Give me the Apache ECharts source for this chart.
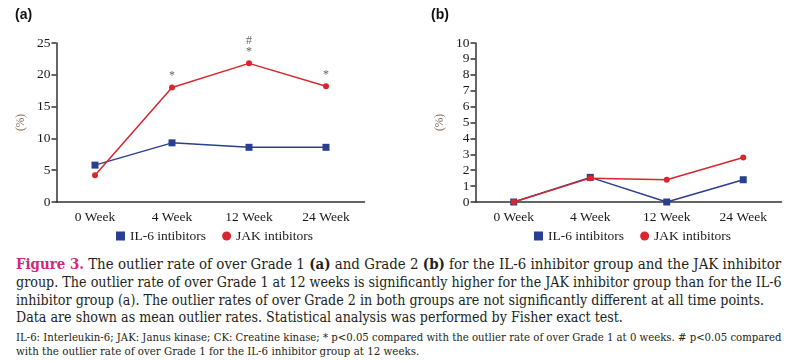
<!DOCTYPE html>
<html>
<head>
<meta charset="utf-8">
<script src="https://cdn.jsdelivr.net/npm/echarts@6/dist/echarts.min.js"></script>
<style>
  html, body { margin: 0; padding: 0; background: #fff; }
  #wrap { position: relative; width: 794px; height: 361px; overflow: hidden; }
  #chart { position: absolute; left: 0; top: 0; width: 794px; height: 250px; }
  .ln { position: absolute; left: 16px; white-space: nowrap; transform-origin: 0 50%;
        font-family: "DejaVu Serif", "Liberation Serif", serif; color: #231f20; }
  .cap { font-size: 15px; line-height: 18px; height: 18px; }
  .fn { font-size: 11.5px; line-height: 14px; height: 14px; }
  .fig { color: #d5257c; font-weight: bold; }
  .b { font-weight: bold; }
</style>
</head>
<body>
<div id="wrap">
  <div id="chart"></div>
  <div class="ln cap" data-w="765" style="top:255px"><span class="fig">Figure 3.</span> The outlier rate of over Grade 1 <span class="b">(a)</span> and Grade 2 <span class="b">(b)</span> for the IL-6 inhibitor group and the JAK inhibitor</div>
  <div class="ln cap" data-w="766" style="top:273px">group. The outlier rate of over Grade 1 at 12 weeks is significantly higher for the JAK inhibitor group than for the IL-6</div>
  <div class="ln cap" data-w="748" style="top:291px">inhibitor group (a). The outlier rates of over Grade 2 in both groups are not significantly different at all time points.</div>
  <div class="ln cap" data-w="607" style="top:308px">Data are shown as mean outlier rates. Statistical analysis was performed by Fisher exact test.</div>
  <div class="ln fn" data-w="766" style="top:330px">IL-6: Interleukin-6; JAK: Janus kinase; CK: Creatine kinase; * p&lt;0.05 compared with the outlier rate of over Grade 1 at 0 weeks. # p&lt;0.05 compared</div>
  <div class="ln fn" data-w="403" style="top:344px">with the outlier rate of over Grade 1 for the IL-6 inhibitor group at 12 weeks.</div>
</div>
<script>
// ---- data ----
var categories = ['0 Week', '4 Week', '12 Week', '24 Week'];
var grade1IL6 = [5.8, 9.3, 8.6, 8.6];
var grade1JAK = [4.2, 18.0, 21.8, 18.2];
var grade2IL6 = [0, 1.55, 0, 1.4];
var grade2JAK = [0, 1.5, 1.4, 2.8];
var grade1Marks = ['', '*', '#\n*', '*'];
var seriesNames = ['IL-6 intibitors', 'JAK intibitors'];
var panelLabels = ['(a)', '(b)'];
var yTicksA = { min: 0, max: 25, interval: 5 };
var yTicksB = { min: 0, max: 10, interval: 1 };

// ---- styles ----
var BLUE = '#2a3f8f', RED = '#d8262f', AXIS = '#333333';
var SERIF = '"Liberation Serif", "DejaVu Serif", serif';

function xAxis(gi) {
  return {
    type: 'category', gridIndex: gi, data: categories, boundaryGap: true,
    axisLine: { lineStyle: { color: AXIS, width: 1.5 } },
    axisTick: { show: false },
    axisLabel: { color: '#1a1a1a', fontFamily: SERIF, fontSize: 13.5, margin: 8 },
    splitLine: { show: false }
  };
}
function yAxis(gi, t) {
  return {
    type: 'value', gridIndex: gi, min: t.min, max: t.max, interval: t.interval,
    name: '(%)', nameLocation: 'middle', nameGap: 30, nameRotate: 90,
    nameTextStyle: { color: '#7a6555', fontFamily: SERIF, fontSize: 11.5 },
    axisLine: { show: true, lineStyle: { color: AXIS, width: 1.5 } },
    axisTick: { show: true, inside: false, length: 5, lineStyle: { color: AXIS, width: 1.5 } },
    axisLabel: { color: '#1a1a1a', fontFamily: SERIF, fontSize: 13.5, margin: 6 },
    splitLine: { show: false }
  };
}
function lineSeries(name, gi, data, color, sym, size, marks) {
  var s = {
    name: name, type: 'line', xAxisIndex: gi, yAxisIndex: gi, data: data,
    symbol: sym, symbolSize: size, showAllSymbol: true,
    lineStyle: { color: color, width: 1.5 },
    itemStyle: { color: color },
    emphasis: { disabled: true },
    z: sym === 'circle' ? 3 : 2
  };
  if (marks) {
    s.label = {
      show: true, position: 'top', distance: 3,
      formatter: function (p) { return marks[p.dataIndex]; },
      color: '#666', fontFamily: SERIF, fontSize: 12, lineHeight: 11
    };
  }
  return s;
}
function legend(left) {
  return {
    left: left, top: 229, padding: 0, itemWidth: 9, itemHeight: 9, itemGap: 16,
    textStyle: { color: '#1a1a1a', fontFamily: SERIF, fontSize: 13.5 },
    data: [
      { name: seriesNames[0], icon: 'rect', itemStyle: { color: BLUE } },
      { name: seriesNames[1], icon: 'circle', itemStyle: { color: RED } }
    ]
  };
}

var chart = echarts.init(document.getElementById('chart'), null, { renderer: 'canvas' });
chart.setOption({
  animation: false,
  backgroundColor: '#fff',
  title: [
    { text: panelLabels[0], left: 15, top: 8, padding: 0, textStyle: { fontFamily: '"Liberation Sans", Arial, sans-serif', fontWeight: 'bold', fontSize: 14, color: '#111' } },
    { text: panelLabels[1], left: 431, top: 8, padding: 0, textStyle: { fontFamily: '"Liberation Sans", Arial, sans-serif', fontWeight: 'bold', fontSize: 14, color: '#111' } }
  ],
  legend: [legend(116), legend(534)],
  grid: [
    { left: 56.5, top: 43, width: 308, height: 159, containLabel: false },
    { left: 475.5, top: 43, width: 306, height: 159, containLabel: false }
  ],
  xAxis: [xAxis(0), xAxis(1)],
  yAxis: [yAxis(0, yTicksA), yAxis(1, yTicksB)],
  series: [
    lineSeries(seriesNames[0], 0, grade1IL6, BLUE, 'rect', 7),
    lineSeries(seriesNames[1], 0, grade1JAK, RED, 'circle', 6, grade1Marks),
    lineSeries(seriesNames[0], 1, grade2IL6, BLUE, 'rect', 7),
    lineSeries(seriesNames[1], 1, grade2JAK, RED, 'circle', 6)
  ]
});

// fit caption lines to the reference's line widths
document.querySelectorAll('.ln').forEach(function (el) {
  var target = parseFloat(el.getAttribute('data-w'));
  var w = el.scrollWidth;
  if (w > 0) el.style.transform = 'scaleX(' + (target / w) + ')';
});
</script>
</body>
</html>
